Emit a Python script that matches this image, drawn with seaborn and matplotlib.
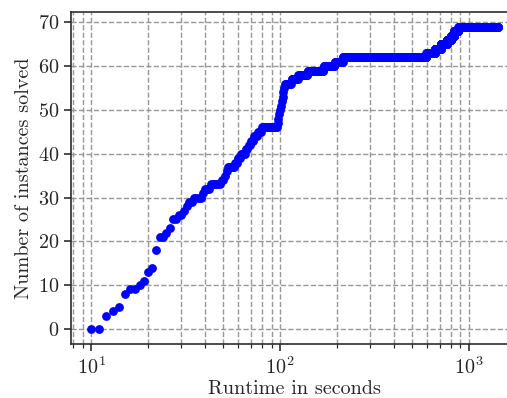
import matplotlib
matplotlib.use("Agg")
import matplotlib.pyplot as plt
import seaborn as sns
import numpy as np
import pandas as pd

# runtime (s) at which each instance counts as solved
solve_times = [12, 12, 12, 13, 14, 15, 15, 15, 16, 18, 19, 20, 20, 21,
               22, 22, 22, 22, 23, 23, 23, 25, 26, 27, 27,
               29, 31, 32, 33, 35, 39, 40, 43, 49, 51, 52, 53, 58, 60,
               62, 66, 68, 70, 73, 76, 80,
               97, 98, 99, 100, 101, 102, 103, 104, 105, 106,
               115, 125, 140, 170, 195, 215,
               595, 660, 710, 765, 805, 835, 880]
t_start = 10
t_end = 1420

runtime = np.arange(t_start, t_end + 1)
solved = np.searchsorted(np.sort(solve_times), runtime, side="right")
df = pd.DataFrame({"runtime": runtime, "solved": solved})

sns.set_style("ticks")
plt.rcParams["font.family"] = ["cmr10", "DejaVu Serif"]
plt.rcParams["mathtext.fontset"] = "cm"
plt.rcParams["axes.formatter.use_mathtext"] = True
plt.rcParams["font.size"] = 10
plt.rcParams["xtick.major.size"] = 3.5
plt.rcParams["ytick.major.size"] = 3.5
plt.rcParams["xtick.minor.size"] = 2
plt.rcParams["xtick.major.pad"] = 2.5
plt.rcParams["ytick.major.pad"] = 2.5

fig = plt.figure(figsize=(3.5, 398 / 145.14), dpi=145.14)
ax = fig.add_axes([0.1398, 0.1357, 0.880, 0.835])
ax.set_axisbelow(True)
sns.scatterplot(data=df, x="runtime", y="solved", color="blue", s=19,
                linewidth=0, ax=ax, zorder=3)
ax.set_xscale("log")
ax.grid(True, which="major", axis="both", ls="--", color="0.6", lw=0.7)
ax.grid(True, which="minor", axis="x", ls="--", color="0.6", lw=0.7)
ax.set_yticks(range(0, 71, 10))
ax.set_xlabel("Runtime in seconds", labelpad=1)
ax.set_ylabel("Number of instances solved", labelpad=2.5)
for lab in ax.get_xticklabels() + ax.get_yticklabels():
    lab.set_fontsize(10)

fig.savefig("out.png", dpi=145.14)
